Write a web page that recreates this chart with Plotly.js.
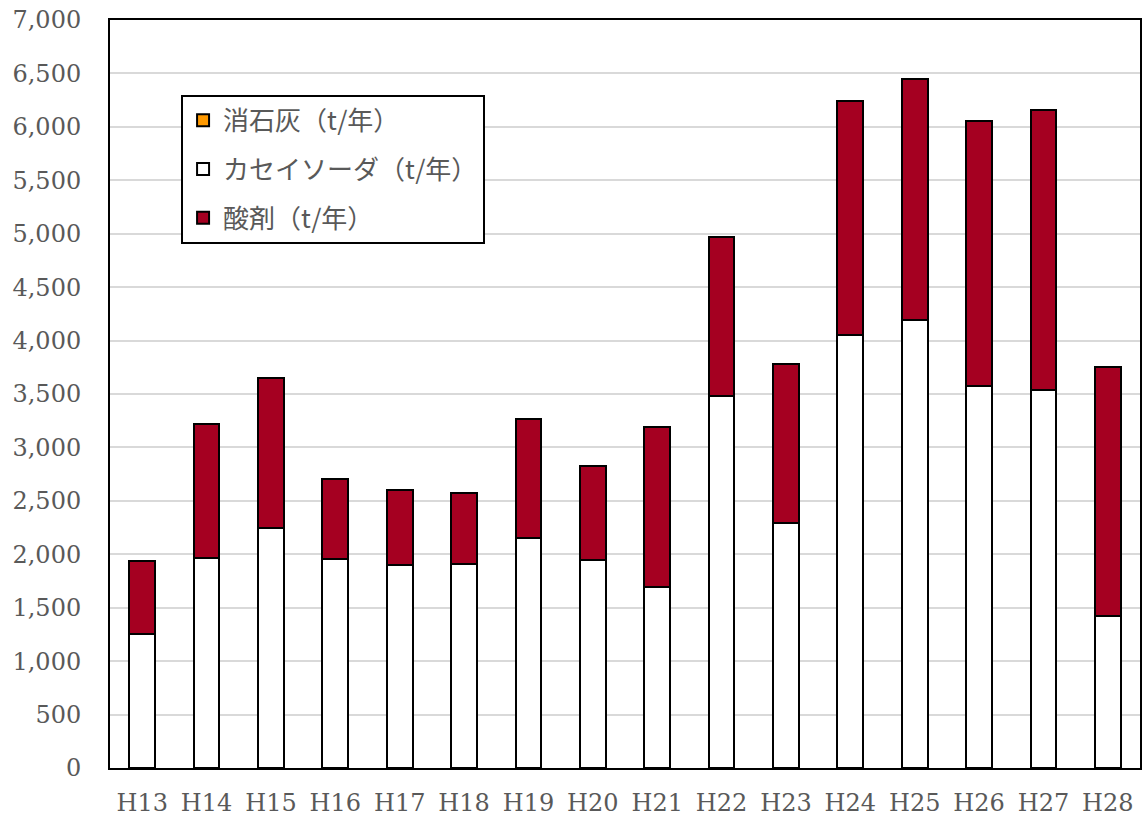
<!DOCTYPE html>
<html><head><meta charset="utf-8">
<script src="https://cdn.plot.ly/plotly-3.0.1.min.js"></script>
<style>html,body{margin:0;padding:0;background:#fff}#chart{width:1146px;height:818px}</style>
</head><body><div id="chart"></div>
<script>
const categories = ["H13","H14","H15","H16","H17","H18","H19","H20","H21","H22","H23","H24","H25","H26","H27","H28"];
const slakedLime = [0,0,0,0,0,0,0,0,0,0,0,0,0,0,0,0];
const causticSoda = [1254,1965,2246,1956,1900,1909,2152,1946,1694,3481,2293,4052,4192,3575,3537,1422];
const acidAgent = [683,1254,1404,748,701,664,1114,880,1497,1488,1488,2190,2256,2480,2621,2331];
const seriesNames = ["消石灰（t/年）","カセイソーダ（t/年）","酸剤（t/年）"];
const yTicks = [0,500,1000,1500,2000,2500,3000,3500,4000,4500,5000,5500,6000,6500,7000];

const line = {color:'#000000', width:2};
const traces = [
  {type:'bar', name:seriesNames[0], x:categories, y:slakedLime, marker:{color:'#FF9900', line:line}, legendgroup:'a'},
  {type:'bar', name:seriesNames[1], x:categories, y:causticSoda, marker:{color:'#FFFFFF', line:line}, legendgroup:'b'},
  {type:'bar', name:seriesNames[2], x:categories, y:acidAgent, marker:{color:'#A50021', line:line}, legendgroup:'c'}
];
const tickFont = {family:'"DejaVu Serif", "Liberation Serif", serif', size:24, color:'#595959'};
const layout = {
  width:1146, height:818,
  margin:{l:110, r:6, t:20, b:50},
  paper_bgcolor:'#ffffff', plot_bgcolor:'#ffffff',
  barmode:'stack', bargap:0.6,
  separators:'.,',
  showlegend:true,
  legend:{x:0.069, y:0.9, xanchor:'left', yanchor:'top', bgcolor:'#ffffff', bordercolor:'#000000', borderwidth:2,
    traceorder:'grouped', tracegroupgap:12, itemwidth:30,
    font:{family:'"Noto Sans CJK JP", sans-serif', size:26, color:'#595959'}},
  xaxis:{type:'category', showline:true, linecolor:'#000000', linewidth:2, mirror:true,
    ticks:'', ticklabelstandoff:12, tickfont:tickFont},
  yaxis:{range:[0,7000], tickvals:yTicks, tickformat:',d', showline:true, linecolor:'#000000', linewidth:2, mirror:true,
    showgrid:true, gridcolor:'#d9d9d9', gridwidth:2, ticks:'', ticklabelstandoff:22, zeroline:false, tickfont:tickFont}
};
Plotly.newPlot('chart', traces, layout, {displayModeBar:false, staticPlot:true});
</script></body></html>
